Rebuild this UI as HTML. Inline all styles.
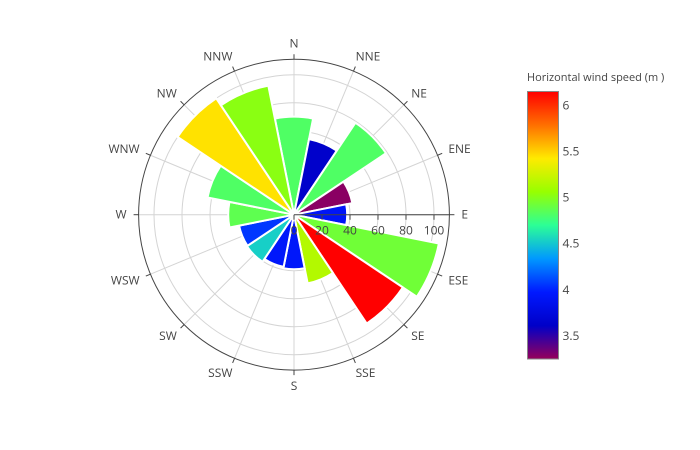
<!DOCTYPE html>
<html><head><meta charset="utf-8"><style>
html,body{margin:0;padding:0;background:#fff;}
svg{display:block;font-family:"Open Sans","Liberation Sans",sans-serif;}
</style></head><body>
<svg id="chart" width="700" height="450" viewBox="0 0 700 450">
<g id="grid"></g>
<g id="bars"></g>
<g id="axes"></g>
<g id="cbar"></g>
</svg>
<script>
const directions = ["N","NNE","NE","ENE","E","ESE","SE","SSE","S","SSW","SW","WSW","W","WNW","NW","NNW"];
const frequencies = [70,55,79,42.5,38,105.5,93.5,50,39,38,40.5,40,47,63,100,94];
const windSpeeds = [4.82,3.63,4.82,3.28,3.92,4.93,6.15,5.16,3.94,3.95,4.53,4.06,4.87,4.82,5.45,5.02];
const radialTicks = [0,20,40,60,80,100];
const colorTicks = [3.5,4,4.5,5,5.5,6];

const NS="http://www.w3.org/2000/svg";
const cx=294, cy=214.7, pxPerUnit=1.4, rMaxUnits=111;
const cmin=3.25, cmax=6.15;
const scaleStops=[[0,[150,0,90]],[0.125,[0,0,200]],[0.25,[0,25,255]],[0.375,[0,152,255]],[0.5,[44,255,150]],[0.625,[151,255,0]],[0.75,[255,234,0]],[0.875,[255,111,0]],[1,[255,0,0]]];
function colorAt(t){t=Math.max(0,Math.min(1,t));for(let i=1;i<scaleStops.length;i++){if(t<=scaleStops[i][0]){const a=scaleStops[i-1],b=scaleStops[i];const f=(t-a[0])/(b[0]-a[0]);return "rgb("+a[1].map((c,k)=>Math.round(c+(b[1][k]-c)*f)).join(",")+")";}}return "rgb(255,0,0)";}
function rScale(v){return v*pxPerUnit;}
function angleOf(i){return i*360/directions.length;}
function pt(r,deg){const a=deg*Math.PI/180;return [cx+r*Math.sin(a),cy-r*Math.cos(a)];}
function mk(tag,attrs,parent){const e=document.createElementNS(NS,tag);for(const k in attrs)e.setAttribute(k,attrs[k]);parent.appendChild(e);return e;}

const grid=document.getElementById('grid'),bars=document.getElementById('bars'),axes=document.getElementById('axes'),cbar=document.getElementById('cbar');
const R=rScale(rMaxUnits);
radialTicks.filter(v=>v>0).forEach(v=>{
 const c=mk('circle',{cx:cx,cy:cy,r:rScale(v),fill:'none',stroke:'#d4d4d4','stroke-width':1},grid);
 
 
});
directions.forEach((d,i)=>{
 const p=pt(R,angleOf(i));
 const l=mk('line',{x1:cx,y1:cy,x2:p[0],y2:p[1],stroke:'#d4d4d4','stroke-width':1},grid);
 
 
});
const half=360/directions.length/2;
directions.forEach((d,i)=>{
 const r=rScale(frequencies[i]);const a=angleOf(i);
 const p1=pt(r,a-half),p2=pt(r,a+half);
 const path=mk('path',{d:`M${cx},${cy}L${p1[0]},${p1[1]}A${r},${r} 0 0 1 ${p2[0]},${p2[1]}Z`,fill:colorAt((windSpeeds[i]-cmin)/(cmax-cmin)),stroke:'#fff','stroke-width':2,'stroke-linejoin':'miter'},bars);
 
 
});
const oc=mk('circle',{cx:cx,cy:cy,r:R,fill:'none',stroke:'#444','stroke-width':1},axes);


directions.forEach((d,i)=>{
 const a=angleOf(i);const p1=pt(R,a),p2=pt(R+5,a),pl=pt(R+16,a);
 const t=mk('line',{x1:p1[0],y1:p1[1],x2:p2[0],y2:p2[1],stroke:'#444','stroke-width':1},axes);
 
 
 const s=Math.sin(a*Math.PI/180);
 const anchor=Math.abs(s)<0.2?'middle':(s>0?'start':'end');
 const txt=mk('text',{x:pl[0]+(anchor==='start'?-4:anchor==='end'?4:0),y:pl[1]+4,'text-anchor':anchor,'font-size':12,fill:'#444'},axes);
 txt.textContent=d;
 
 
});
const ra=mk('line',{x1:cx,y1:cy,x2:cx+R,y2:cy,stroke:'#444','stroke-width':1},axes);


radialTicks.forEach(v=>{
 const x=cx+rScale(v);
 const tk=mk('line',{x1:x,y1:cy,x2:x,y2:cy+5,stroke:'#444','stroke-width':1},axes);
 
 
 const t=mk('text',{x:x,y:cy+20,'text-anchor':'middle','font-size':12,fill:'#444'},axes);
 t.textContent=String(v);
 
 
});
const cbx=527.5,cby=91.5,cbw=31,cbh=267.5;
const defs=mk('defs',{},cbar);
const grad=mk('linearGradient',{id:'cg',x1:0,y1:1,x2:0,y2:0},defs);
scaleStops.forEach(s=>mk('stop',{offset:s[0],'stop-color':colorAt(s[0])},grad));
const rect=mk('rect',{x:cbx,y:cby,width:cbw,height:cbh,fill:'url(#cg)',stroke:'#888','stroke-width':1},cbar);


function cbY(v){return cby+cbh-(v-cmin)/(cmax-cmin)*cbh;}
colorTicks.forEach(v=>{
 const t=mk('text',{x:cbx+cbw+4,y:cbY(v)+4,'font-size':12,fill:'#444'},cbar);
 t.textContent=String(v);
 
 
});
const title=mk('text',{x:527,y:81,'font-size':11,fill:'#444'},cbar);
title.textContent="Horizontal wind speed (m )";


</script>
</body></html>
